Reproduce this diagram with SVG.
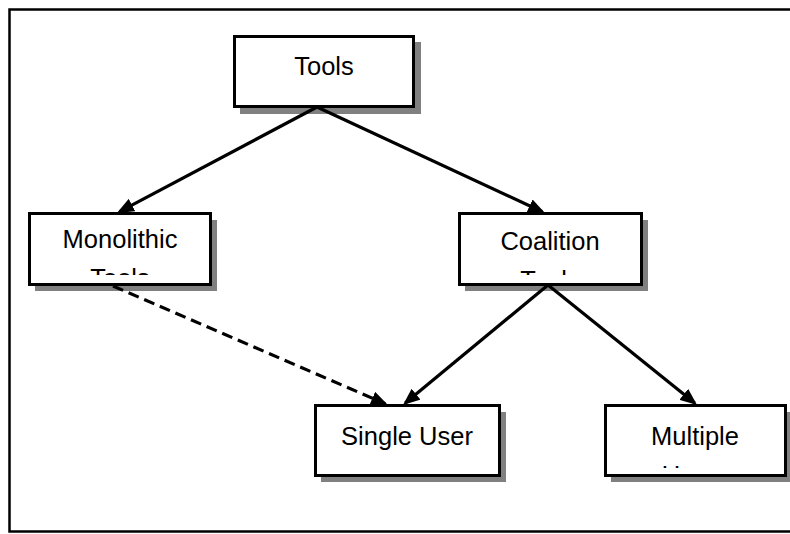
<svg xmlns="http://www.w3.org/2000/svg" width="790" height="534" viewBox="0 0 790 534">
<style>
.box{fill:#fff;stroke:#000;stroke-width:3}
.shadow{fill:#808080}
.lbl{font-family:"Liberation Sans",Arial,sans-serif;font-size:25.5px;fill:#000;text-anchor:middle}
.conn{fill:none;stroke:#000;stroke-width:3.2}
.dash{stroke-dasharray:11 6}
</style>
<defs>
<marker id="arr" viewBox="0 0 17 14" markerUnits="userSpaceOnUse" markerWidth="17" markerHeight="14" refX="14" refY="7" orient="auto">
<path d="M0,0 L17,7 L0,14 z" fill="#000"/>
</marker>
<clipPath id="cMono"><rect x="30" y="215" width="180" height="60"/></clipPath>
<clipPath id="cCoal"><rect x="460" y="215" width="180" height="60"/></clipPath>
<clipPath id="cMult"><rect x="606" y="407" width="178" height="61"/></clipPath>
</defs>
<rect x="0" y="0" width="790" height="534" fill="#fff"/>
<rect id="frame" x="9.5" y="9.5" width="800" height="522" fill="none" stroke="#000" stroke-width="2.5"/>

<g id="tools">
<rect class="shadow" x="240" y="42" width="181" height="72"/>
<rect class="box" x="234.5" y="36.5" width="179" height="70"/>
<text class="lbl" x="324" y="75">Tools</text>
</g>

<g id="monolithic">
<rect class="shadow" x="35" y="220" width="182" height="71"/>
<rect class="box" x="29.5" y="213.5" width="181" height="71"/>
<g clip-path="url(#cMono)">
<text class="lbl" x="120" y="248">Monolithic</text>
<text class="lbl" x="120" y="287">Tools</text>
</g>
</g>

<g id="coalition">
<rect class="shadow" x="465" y="220" width="183" height="71"/>
<rect class="box" x="459.5" y="213.5" width="182" height="71"/>
<g clip-path="url(#cCoal)">
<text class="lbl" x="550" y="250">Coalition</text>
<text class="lbl" x="550" y="289">Tools</text>
</g>
</g>

<g id="single-user">
<rect class="shadow" x="321" y="412" width="185" height="70"/>
<rect class="box" x="315.5" y="405.5" width="184" height="70"/>
<text class="lbl" x="407" y="445">Single User</text>
</g>

<g id="multiple-users">
<rect class="shadow" x="611" y="412" width="182" height="70"/>
<rect class="box" x="605.5" y="405.5" width="180" height="70"/>
<g clip-path="url(#cMult)">
<text class="lbl" x="695" y="445">Multiple</text>
<text class="lbl" x="695" y="484">Users</text>
</g>
</g>

<g id="connectors">
<path class="conn" d="M317,107 L119.6,211.6" marker-end="url(#arr)"/>
<path class="conn" d="M317,107 L542.3,211.7" marker-end="url(#arr)"/>
<path class="conn" d="M548,285 L405.3,403.1" marker-end="url(#arr)"/>
<path class="conn" d="M548,285 L694.7,403.1" marker-end="url(#arr)"/>
<path class="conn dash" d="M113,286 L385.2,403.8" marker-end="url(#arr)"/>
</g>
</svg>
